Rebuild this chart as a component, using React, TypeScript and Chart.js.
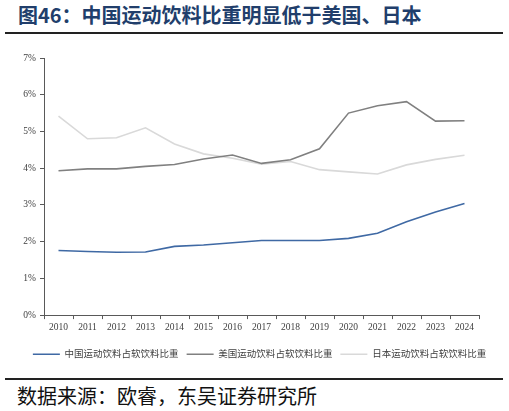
import { useEffect, useRef } from "react";
import { Chart, registerables } from "chart.js";

Chart.register(...registerables);

const YEARS = ["2010", "2011", "2012", "2013", "2014", "2015", "2016", "2017", "2018", "2019", "2020", "2021", "2022", "2023", "2024"];
const CHINA = [1.76, 1.73, 1.71, 1.72, 1.87, 1.91, 1.97, 2.03, 2.03, 2.03, 2.09, 2.23, 2.54, 2.81, 3.04];
const USA = [3.93, 3.98, 3.98, 4.05, 4.1, 4.25, 4.36, 4.13, 4.23, 4.53, 5.5, 5.7, 5.81, 5.28, 5.29];
const JAPAN = [5.42, 4.8, 4.83, 5.1, 4.66, 4.39, 4.27, 4.11, 4.18, 3.96, 3.9, 3.84, 4.09, 4.24, 4.35];
const SERIES_NAMES = ["中国运动饮料占软饮料比重", "美国运动饮料占软饮料比重", "日本运动饮料占软饮料比重"];

const TICK_FONT = "'Liberation Serif', 'Noto Sans CJK SC', serif";
const AXIS_COLOR = "#595959";

// nudge the legend to the right so it sits where the original's does
const legendShift = {
  id: "legendShift",
  afterLayout(chart: Chart) {
    const lg: any = chart.legend;
    if (!lg) return;
    lg.left += 20;
    lg.right += 20;
  },
};

function LineChart() {
  const canvasRef = useRef<HTMLCanvasElement>(null);

  useEffect(() => {
    if (!canvasRef.current) return;
    const chart = new Chart(canvasRef.current, {
      type: "line",
      data: {
        labels: YEARS,
        datasets: [
          { label: SERIES_NAMES[0], data: CHINA, borderColor: "#3F69A4", backgroundColor: "#3F69A4", borderWidth: 1.6, pointRadius: 0, tension: 0 },
          { label: SERIES_NAMES[1], data: USA, borderColor: "#808080", backgroundColor: "#808080", borderWidth: 1.6, pointRadius: 0, tension: 0 },
          { label: SERIES_NAMES[2], data: JAPAN, borderColor: "#D9D9D9", backgroundColor: "#D9D9D9", borderWidth: 1.6, pointRadius: 0, tension: 0 },
        ],
      },
      options: {
        animation: false,
        responsive: false,
        maintainAspectRatio: false,
        layout: { padding: { top: 18, right: 30, left: 0, bottom: 6 } },
        plugins: {
          tooltip: { enabled: false },
          legend: {
            position: "bottom",
            labels: {
              usePointStyle: true,
              pointStyle: "line",
              pointStyleWidth: 27,
              boxHeight: 8,
              padding: 8,
              color: "#404040",
              font: { family: TICK_FONT, size: 9.5 },
            },
          },
        },
        scales: {
          x: {
            type: "category",
            offset: true,
            grid: { display: true, drawOnChartArea: false, drawTicks: true, tickLength: 4, offset: true, color: AXIS_COLOR },
            border: { display: true, color: AXIS_COLOR },
            ticks: { color: "#404040", font: { family: TICK_FONT, size: 9.5 }, maxRotation: 0, padding: 3 },
            afterFit: (scale) => {
              scale.height += 5;
            },
          },
          y: {
            min: 0,
            max: 7,
            grid: { display: true, drawOnChartArea: false, drawTicks: true, tickLength: 4, color: AXIS_COLOR },
            border: { display: true, color: AXIS_COLOR },
            ticks: { stepSize: 1, color: "#404040", font: { family: TICK_FONT, size: 9.5 }, padding: 4, callback: (v) => v + "%" },
            afterFit: (scale) => {
              scale.width = 44;
            },
          },
        },
      },
      plugins: [legendShift],
    });
    return () => chart.destroy();
  }, []);

  return <canvas ref={canvasRef} width={509} height={335} style={{ display: "block", width: 509, height: 335 }} />;
}

export default function App() {
  return (
    <div style={{ position: "fixed", left: 0, top: 0, width: 509, height: 411, background: "#fff", overflow: "hidden" }}>
      <div
        style={{
          position: "absolute",
          left: 18,
          top: 3,
          fontFamily: "'Noto Sans CJK SC', sans-serif",
          fontWeight: 700,
          fontSize: 20,
          lineHeight: "24px",
          color: "#213E6B",
          whiteSpace: "nowrap",
        }}
      >
        图46：中国运动饮料比重明显低于美国、日本
      </div>
      <div style={{ position: "absolute", left: 5, right: 6, top: 32, height: 2, background: "#222" }} />
      <div style={{ position: "absolute", left: 0, top: 40 }}>
        <LineChart />
      </div>
      <div style={{ position: "absolute", left: 5, right: 6, top: 378, height: 2, background: "#222" }} />
      <div
        style={{
          position: "absolute",
          left: 17,
          top: 384,
          fontFamily: "'Noto Sans CJK SC', sans-serif",
          fontSize: 20,
          lineHeight: "24px",
          color: "#111",
          whiteSpace: "nowrap",
        }}
      >
        数据来源：欧睿，东吴证券研究所
      </div>
    </div>
  );
}
